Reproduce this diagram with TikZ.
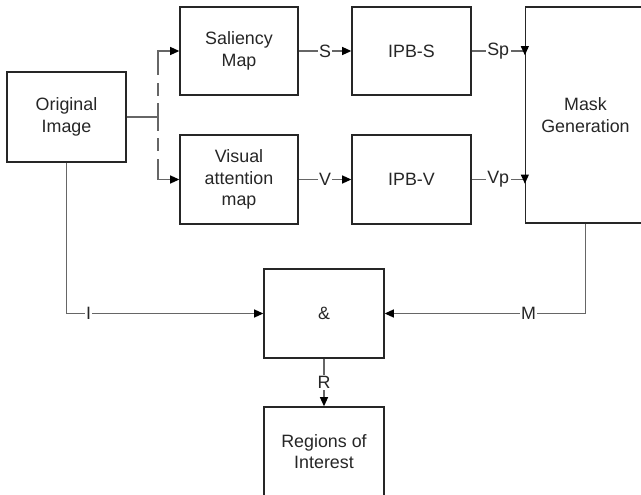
\documentclass[tikz,border=0pt]{standalone}
\usepackage{fontspec}
\setmainfont{Liberation Sans}
\usetikzlibrary{arrows.meta}
\tikzset{blk/.style = {draw = black!85, line width = 0.9pt, text = black!85, align = center, inner sep = 0, font = \fontsize{12.7}{15.4}\selectfont}}
\tikzset{con/.style = {draw = black!60, line width = 1.1pt}}
\tikzset{arr/.style = {con, -{Triangle[length = 6.5pt, width = 5.6pt, color = black]}}}
\tikzset{lbl/.style = {fill = white, text = black!85, inner sep = 1pt, font = \fontsize{12.7}{15.4}\selectfont}}
\tikzset{brk/.style = {dash pattern = on 10pt off 5pt on 9pt off 6pt on 300pt}}

\begin{document}
\begin{tikzpicture}[x = 0.025cm, y = -0.025cm]
        \useasboundingbox (0, 0) rectangle (641, 495);
        \node [blk, minimum width = 2.975cm, minimum height = 2.25cm] (orig) at (66.5, 117) {Original\\Image};
        \node [blk, minimum width = 2.95cm, minimum height = 2.2cm] (sal) at (239, 51) {Saliency\\Map};
        \node [blk, minimum width = 2.95cm, minimum height = 2.225cm] (vis) at (239, 179.5) {Visual\\attention\\map};
        \node [blk, minimum width = 2.975cm, minimum height = 2.2cm] (ipbs) at (411.5, 51) {IPB-S};
        \node [blk, minimum width = 2.975cm, minimum height = 2.225cm] (ipbv) at (411.5, 179.5) {IPB-V};
        \node [blk, minimum width = 3cm, minimum height = 5.4cm] (mask) at (585.5, 115) {Mask\\Generation};
        \node [blk, minimum width = 3cm, minimum height = 2.225cm] (and) at (324, 313.5) {\&};
        \node [blk, minimum width = 3cm, minimum height = 2.225cm] (roi) at (324, 451.5) {Regions of\\Interest};
        \coordinate (split) at (158, 117);
        \coordinate (sp) at (mask.west |- ipbs.east);
        \coordinate (vp) at (mask.west |- ipbv.east);
        \draw [con] (orig.east) -- (split);
        \draw [arr, brk] (split) |- (sal.west);
        \draw [arr, brk] (split) |- (vis.west);
        \draw [arr] (sal.east) -- node [lbl] {S} (ipbs.west);
        \draw [arr] (vis.east) -- node [lbl] {V} (ipbv.west);
        \draw [con] (ipbs.east) -- node [lbl] {Sp} (sp);
        \draw [arr] ([yshift = 2pt] sp) -- ++(0, 7);
        \draw [con] (ipbv.east) -- node [lbl] {Vp} (vp);
        \draw [arr] ([yshift = 2pt] vp) -- ++(0, 7);
        \draw [arr] (orig.south) |- node [lbl, pos = 0.556, inner sep = 0.5pt] {I} (and.west);
        \draw [arr] (mask.south) |- node [lbl, pos = 0.642] {M} (and.east);
        \draw [arr] (and.south) -- node [lbl] {R} (roi.north);
      \end{tikzpicture}
\end{document}
